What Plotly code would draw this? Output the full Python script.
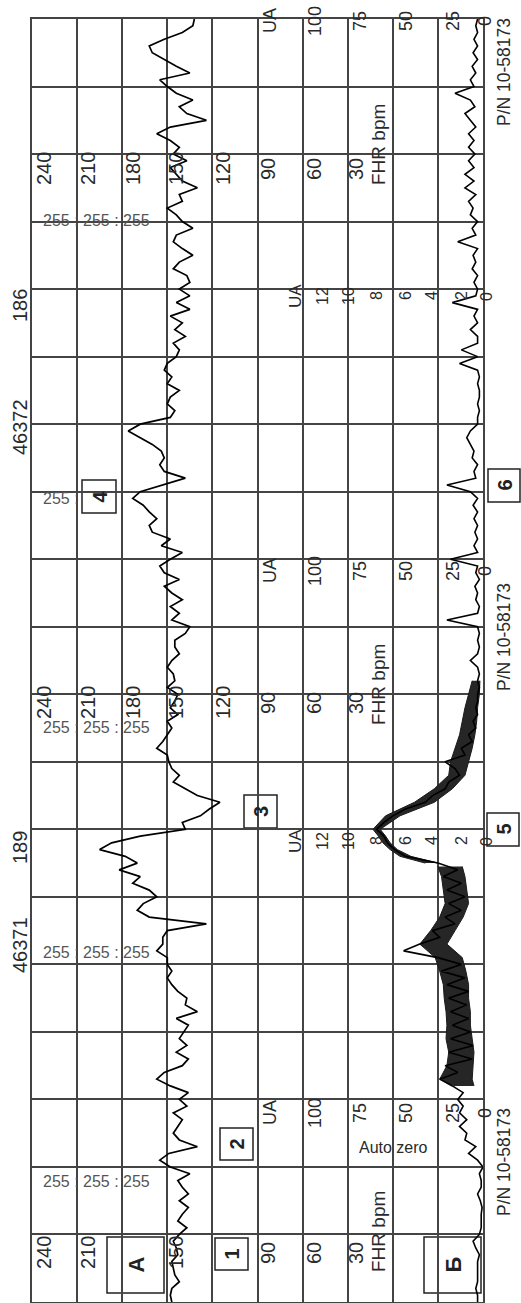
import plotly.graph_objects as go

# ---------------- data (read from the strip) ----------------
# time along the strip in minutes (bottom of picture = 0), one sample every 0.1 min
minutes = [round(i * 0.1, 1) for i in range(191)]

fhr_bpm = [
    147, 148, 147, 142, 145, 146, 147, 143, 144, 146,
    142, 137, 143, 140, 136, 142, 136, 140, 143, 135,
    148, 155, 149, 130, 142, 146, 143, 140, 146, 137,
    142, 136, 148, 157, 152, 140, 136, 144, 137, 142,
    139, 136, 144, 130, 138, 137, 143, 147, 150, 147,
    150, 150, 157, 153, 153, 150, 124, 162, 170, 166,
    157, 162, 173, 168, 182, 170, 178, 195, 187, 168,
    138, 140, 128, 122, 115, 130, 138, 146, 142, 147,
    149, 150, 157, 153, 150, 147, 150, 143, 148, 145,
    143, 150, 145, 146, 150, 147, 142, 145, 145, 138,
    135, 147, 142, 148, 140, 147, 152, 142, 152, 155,
    148, 140, 154, 148, 160, 162, 157, 162, 166, 173,
    168, 153, 138, 152, 155, 152, 154, 160, 168, 176,
    168, 148, 145, 150, 148, 142, 150, 147, 152, 150,
    144, 142, 146, 138, 145, 140, 148, 135, 144, 135,
    142, 135, 137, 146, 142, 133, 140, 146, 144, 133,
    140, 144, 150, 140, 142, 130, 140, 144, 148, 137,
    146, 142, 148, 157, 148, 124, 137, 142, 133, 144,
    150, 155, 135, 144, 152, 160, 162, 152, 140, 133,
    132,
]

ua_units = [
    3, 3, 4, 3, 3, 3, 3, 2, 4, 5.5,
    2, 1, 1, 1, 0.5, 1.5, 3, 1, 1, 2,
    0, 3, 8, 4, 10, 9, 13, 9, 13, 11,
    14, 11, 17, 24, 14, 21, 6, 19, 5.5, 18,
    7, 17, 8, 18, 9, 19, 8, 20, 10, 23,
    12, 25, 44, 35, 24, 28, 15.5, 21, 12, 19,
    10, 20, 12, 22, 14, 25, 43, 49, 53, 55,
    59, 55, 50, 43, 32, 28, 21, 19, 13, 15.5,
    21, 10, 12, 6, 8, 4, 5.5, 3, 4, 3,
    3, 2, 3, 2, 3, 7, 3, 2, 3, 2,
    3, 20, 3, 2, 4, 3, 4.5, 2, 4, 3,
    18, 3, 5, 3, 4.5, 3, 5, 3, 5.5, 3,
    7, 20, 4, 5, 3, 6, 5, 7, 9, 7,
    3, 3, 2, 3, 2, 2, 3, 2, 3, 13,
    3, 12, 3, 3, 7, 3, 5, 3, 17, 4,
    3, 5, 3, 6, 4, 5.5, 3, 14, 4, 6,
    3, 7, 5.5, 8, 4, 10, 5, 10, 5, 8,
    4.5, 8, 5, 8, 4, 7, 10, 4.5, 7, 15.5,
    5, 7, 4, 6, 3, 5.5, 3, 5, 3, 4,
    3,
]

# dense scribble of the UA pen (envelope of the band)
band_a_minutes = [3.2, 3.3, 3.5, 3.7, 3.9, 4.1, 4.3, 4.5, 4.7, 4.9, 5.1, 5.3, 5.5, 5.7, 5.9, 6.1, 6.3, 6.45]
band_a_low = [5, 6, 5.5, 5, 6, 7, 7, 8, 8, 9.5, 11.5, 20, 15.5, 11, 8, 9, 10, 11.5]
band_a_high = [15.5, 24, 20, 19, 20.5, 20, 20.5, 21.5, 22, 24, 26.5, 35, 29, 24, 21, 22, 23, 25]

band_b_minutes = [6.5, 6.6, 6.7, 6.8, 6.9, 7.0, 7.2, 7.4, 7.6, 7.8, 8.0, 8.2, 8.4, 8.6, 8.8, 9.0, 9.2]
band_b_low = [25, 40, 47.5, 51.5, 54, 57, 46, 27, 17, 10, 8, 6, 4.5, 3.5, 3, 2, 1.7]
band_b_high = [32, 46, 51.5, 55.5, 58, 61, 54, 38, 27, 19, 18, 15.5, 13, 11.5, 10, 8, 6]

fhr_scale = ["240", "210", "180", "150", "120", "90", "60", "30"]
ua_scale = ["UA", "100", "75", "50", "25", "0"]
ua_kpa_scale = ["UA", "12", "10", "8", "6", "4", "2", "0"]
strip_ids = ["46371", "189", "46372", "186"]
box_marks = ["1", "2", "3", "4", "5", "6", "А", "Б"]
colour_code = "255 : 255 : 255"

# ---------------- layout helpers ----------------
L, R, T, B = 32, 483, 19, 1302          # plot area in page pixels


def fx(px):
    return (px - L) / (R - L)


def fy(py):
    return (B - py) / (B - T)


GRID = "#444444"
TXT = "#2a2a2a"
SANS = "Liberation Sans, Arial, sans-serif"

fig = go.Figure()

# UA scribble bands
for tm, lo, hi in [(band_a_minutes, band_a_low, band_a_high),
                   (band_b_minutes, band_b_low, band_b_high)]:
    fig.add_trace(go.Scatter(x=lo, y=tm, xaxis="x2", yaxis="y", mode="lines",
                             line=dict(color="#1a1a1a", width=1), showlegend=False,
                             hoverinfo="skip"))
    fig.add_trace(go.Scatter(x=hi, y=tm, xaxis="x2", yaxis="y", mode="lines",
                             line=dict(color="#1a1a1a", width=1), fill="tonextx",
                             fillcolor="#262626", showlegend=False, hoverinfo="skip"))

fig.add_trace(go.Scatter(x=fhr_bpm, y=minutes, mode="lines", xaxis="x", yaxis="y",
                         line=dict(color="black", width=1.7), showlegend=False))
fig.add_trace(go.Scatter(x=ua_units, y=minutes, mode="lines", xaxis="x2", yaxis="y",
                         line=dict(color="black", width=1.6), showlegend=False))

ann = []


def text(s, px, py, size, family=SANS, angle=-90, color=TXT, xanchor="center",
         yanchor="middle", bold=False):
    ann.append(dict(text=("<b>%s</b>" % s) if bold else s, x=fx(px), y=fy(py),
                    xref="paper", yref="paper", showarrow=False, textangle=angle,
                    xanchor=xanchor, yanchor=yanchor,
                    font=dict(size=size, family=family, color=color)))


# FHR scale groups
fhr_px = [44, 88, 133, 176, 223, 268, 314, 356]
for gy, hidden in [(169, []), (703, []), (1253, ["180", "120"])]:
    for lab, px in zip(fhr_scale, fhr_px):
        if lab not in hidden:
            text(lab, px, gy, 20)
text("FHR bpm", 378, 145, 19)
text("FHR bpm", 378, 685, 19)
text("FHR bpm", 378, 1232, 19)

# UA 0..100 scale groups
ua_px = [270, 315, 360, 406, 453, 485]
for gy in [21, 571, 1113]:
    for lab, px in zip(ua_scale, ua_px):
        text(lab, px, gy, 18)

# UA 0..12 scale groups
kpa_px = [296, 323, 349, 377, 406, 432, 462, 487]
for gy in [296, 841]:
    for lab, px in zip(ua_kpa_scale, kpa_px):
        text(lab, px, gy, 17 if lab == "UA" else 16)

# part number
for gy in [72, 637, 1162]:
    text("P/N 10-58173", 504, gy, 17.5)

# strip identifiers in the left margin
for lab, py in zip(strip_ids, [945, 848, 427, 306]):
    text(lab, 20, py, 20)

# colour code texts (horizontal)
for py in [221, 727, 952, 1181]:
    text(colour_code, 41, py, 16, angle=0, color="#555555", xanchor="left")
text("255 :", 41, 498, 16, angle=0, color="#555555", xanchor="left")
text("Auto zero", 393, 1147, 16, angle=0, color=TXT)

# marker boxes
boxes = [(215, 248, 1238, 1270), (220, 253, 1128, 1160), (244, 277, 795, 828),
         (82, 116, 480, 513), (487, 519, 813, 846), (488, 520, 469, 502),
         (107, 164, 1237, 1293), (424, 481, 1237, 1293)]
shapes = []
for lab, (x0, x1, y0, y1) in zip(box_marks, boxes):
    shapes.append(dict(type="rect", xref="paper", yref="paper",
                       x0=fx(x0), x1=fx(x1), y0=fy(y1), y1=fy(y0),
                       line=dict(color="#222222", width=1.5), fillcolor="white",
                       layer="above" if x0 > R else "between"))
    text(lab, (x0 + x1) / 2, (y0 + y1) / 2, 22 if lab in ("А", "Б") else 20,
         color="#222222", bold=True)

fig.update_layout(
    width=521, height=1303,
    margin=dict(l=L, r=521 - R, t=T, b=1303 - B),
    paper_bgcolor="white", plot_bgcolor="white",
    showlegend=False,
    xaxis=dict(range=[240, -60], tickmode="linear", tick0=0, dtick=30,
               showgrid=True, gridcolor=GRID, gridwidth=1.5, zeroline=False,
               showticklabels=False, ticks="", showline=True, mirror=True,
               linecolor=GRID, linewidth=1.5, fixedrange=True),
    xaxis2=dict(range=[250, 0], overlaying="x", side="top", visible=False,
                showgrid=False, zeroline=False, fixedrange=True),
    yaxis=dict(range=[0, 19], tickmode="linear", tick0=0, dtick=1,
               showgrid=True, gridcolor=GRID, gridwidth=1.5, zeroline=False,
               showticklabels=False, ticks="", showline=True, mirror=True,
               linecolor=GRID, linewidth=1.5, fixedrange=True),
    annotations=ann,
    shapes=shapes,
)

fig.write_html("out.html", config={"displayModeBar": False},
               post_script="document.body.style.margin='0';")
